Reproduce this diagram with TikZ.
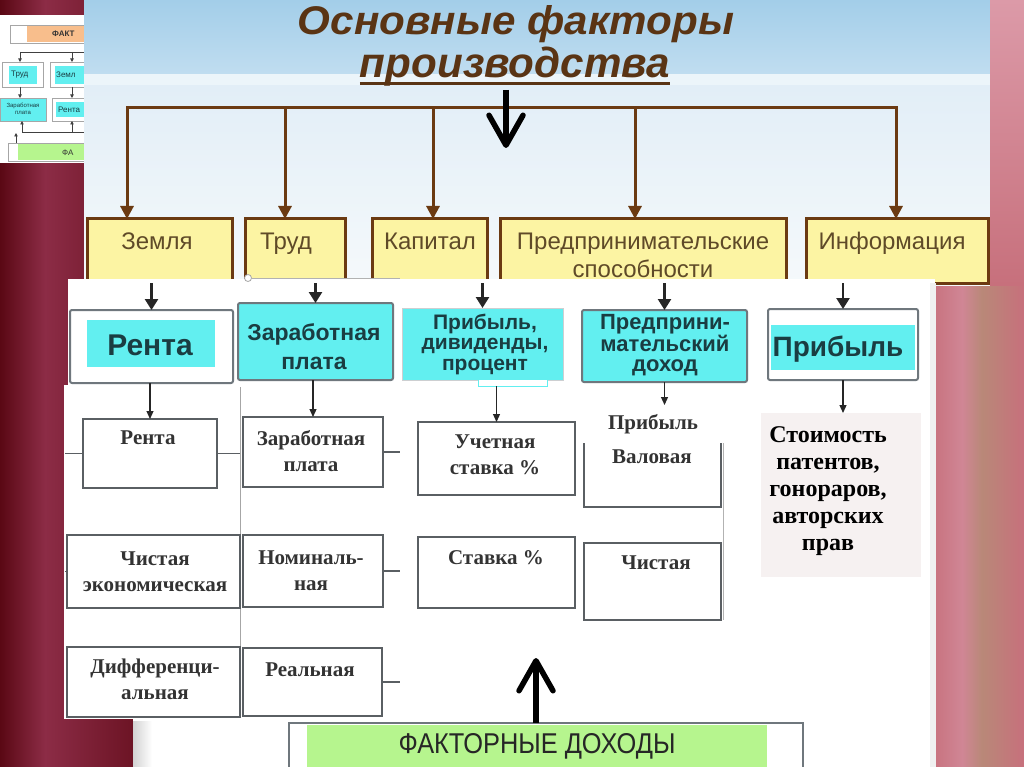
\documentclass[tikz,border=0pt]{standalone}
\usepackage{fontspec}
\usepackage{graphicx}
\setmainfont{Liberation Serif}
\newfontfamily\ysans{Liberation Sans}
\newfontfamily\csans{Liberation Sans}
\usetikzlibrary{arrows.meta,calc}
\definecolor{maroonA}{HTML}{5A0814}
\definecolor{maroonB}{HTML}{8C2C46}
\definecolor{maroonC}{HTML}{6A1222}
\definecolor{pinkA}{HTML}{C7707C}
\definecolor{pinkB}{HTML}{D08695}
\definecolor{pinkC}{HTML}{B98878}
\definecolor{pinkT}{HTML}{DC9AA8}
\definecolor{skyA}{HTML}{A3CEE9}
\definecolor{skyB}{HTML}{C0DDF0}
\definecolor{hdrA}{HTML}{E2EEF7}
\definecolor{hdrB}{HTML}{F5F9FB}
\definecolor{brownC}{HTML}{6B3A12}
\definecolor{yellowC}{HTML}{FCF4A3}
\definecolor{ytextC}{HTML}{5F4A28}
\definecolor{cyanC}{HTML}{62EFF0}
\definecolor{tealT}{HTML}{1A3D42}
\definecolor{grayB}{HTML}{6F777D}
\definecolor{grayL}{HTML}{5A5F63}
\definecolor{serifT}{HTML}{333333}
\definecolor{greenC}{HTML}{B6F58E}
\definecolor{orangeC}{HTML}{F8BE8C}
\definecolor{patchC}{HTML}{F6F1F1}
\definecolor{titleC}{HTML}{5A3414}
\begin{document}
\begin{tikzpicture}[x=1pt,y=-1pt,
  bx/.style={inner sep=0pt,outer sep=0pt,anchor=north west},
  ybox/.style={bx,draw=brownC,line width=3pt,fill=yellowC},
  ytext/.style={font=\ysans\fontsize{24}{28}\selectfont,text=ytextC,inner sep=0pt,anchor=base},
  cbox/.style={bx,draw=grayB,line width=2pt,rounded corners=2pt},
  ctext/.style={font=\csans\bfseries\fontsize{21}{20.5}\selectfont,text=tealT,align=center,inner sep=0pt},
  lbox/.style={bx,draw=grayL,line width=1.6pt,fill=white},
  ltext/.style={font=\bfseries\fontsize{21}{26}\selectfont,text=serifT,align=center,inner sep=0pt},
  barr/.style={draw=brownC,line width=3pt,-{Triangle[width=13pt,length=13pt]}},
  bigarr/.style={draw=black,line width=5.5pt,-{Straight Barb[length=30pt,width=34pt,line width=5.5pt,round]}},
  marr/.style={draw=black!85,line width=2.5pt,-{Triangle[width=13pt,length=11pt]}},
  sarr/.style={draw=black!85,line width=1.2pt,-{Triangle[width=7pt,length=8pt]}},
  tarr/.style={draw=black!75,line width=0.8pt,-{Triangle[width=3.5pt,length=3.5pt]}},
  tbox/.style={bx,draw=gray!70,line width=0.8pt},
  ttext/.style={font=\ysans\fontsize{8}{8}\selectfont,text=tealT,inner sep=0pt,anchor=west},
]
\useasboundingbox (0,0) rectangle (1024,767);
% ---------- curtains
\shade[left color=maroonA,right color=maroonB] (0,0) rectangle (45,767);
\shade[left color=maroonB,right color=maroonC] (45,0) rectangle (140,767);
\shade[left color=pinkA,right color=pinkB] (930,0) rectangle (962,767);
\shade[left color=pinkB,right color=pinkC] (962,0) rectangle (982,767);
\shade[left color=pinkC,right color=pinkA] (982,0) rectangle (1024,767);
% ---------- thumbnail
\fill[white] (0,15) rectangle (84,163);
\node[tbox,fill=white,minimum width=80pt,minimum height=18pt] (tf) at (10,25) {};
\fill[orangeC] (27,26) rectangle (90,42);
\node[ttext,font=\ysans\bfseries\fontsize{8}{8}\selectfont,text=black!80] (tfT) at (52,34) {ФАКТ};
\coordinate (tl1) at (20,52); \coordinate (tl2) at (90,52); \coordinate (tl3) at (72,52);
\draw[black!75,line width=0.8pt] (tl1) -- (tl2);
\node[tbox,fill=white,minimum width=41pt,minimum height=25pt] (tt) at (2,62) {};
\fill[cyanC] (9,66) rectangle (37,84);
\node[ttext] (ttT) at (11,75) {Труд};
\node[tbox,fill=white,minimum width=40pt,minimum height=25pt] (tz) at (50,62) {};
\fill[cyanC] (55,66) rectangle (90,84);
\node[ttext] (tzT) at (56,75) {Земл};
\draw[tarr] (tl1) -- (tl1 |- tt.north);
\draw[tarr] (tl3) -- (tl3 |- tz.north);
\node[tbox,fill=cyanC,minimum width=46pt,minimum height=23pt] (tzp) at (0,98) {};
\node[ttext,anchor=center,align=center,font=\ysans\fontsize{6}{7}\selectfont] (tzpT) at (23,109) {Заработная\\плата};
\node[tbox,fill=white,minimum width=38pt,minimum height=23pt] (tr) at (52,98) {};
\fill[cyanC] (56,102) rectangle (90,117);
\node[ttext] (trT) at (58,110) {Рента};
\draw[tarr] (tt.south -| tl1) -- (tzp.north -| tl1);
\draw[tarr] (tz.south -| tl3) -- (tr.north -| tl3);
\coordinate (tb1) at (22,132); \coordinate (tb2) at (90,132); \coordinate (tb3) at (72,132);
\draw[black!75,line width=0.8pt] (tb1) -- (tb2);
\draw[tarr] (tb1) -- (tb1 |- tzp.south);
\draw[tarr] (tb3) -- (tb3 |- tr.south);
\node[tbox,fill=white,minimum width=82pt,minimum height=18pt] (tg) at (8,143) {};
\fill[greenC] (18,144) rectangle (90,160);
\coordinate (tgA) at (16,133);
\draw[tarr] (tg.north -| tgA) -- (tgA);
\node[ttext,text=black!80] (tgT) at (62,153) {ФА};
% ---------- header
\shade[top color=skyA,bottom color=skyB] (84,0) rectangle (990,74);
\fill[white!70!skyB] (84,74) rectangle (990,86);
\shade[top color=hdrA,bottom color=hdrB] (84,86) rectangle (990,285);
\shade[top color=pinkT,bottom color=pinkA] (990,0) rectangle (1024,285);
% title
\node[anchor=base,inner sep=0pt,text=titleC] (t1) at (516,35) {\resizebox{436pt}{29pt}{\ysans\bfseries\itshape Основные факторы}};
\node[anchor=base,inner sep=0pt,text=titleC] (t2) at (515,78) {\resizebox{310pt}{!}{\ysans\bfseries\itshape производства}};
\draw[draw=titleC,line width=3pt] ($(t2.base west)+(0,6)$) -- ($(t2.base east)+(0,6)$);
% yellow boxes
\node[ybox,minimum width=145pt,minimum height=64pt] (zem) at (87,219) {};
\node[ybox,minimum width=100pt,minimum height=64pt] (trud) at (245,219) {};
\node[ybox,minimum width=115pt,minimum height=64pt] (kap) at (372,219) {};
\node[ybox,minimum width=286pt,minimum height=64pt] (pred) at (500,219) {};
\node[ybox,minimum width=182pt,minimum height=64pt] (inf) at (806,219) {};
\node[ytext] (zemT) at (157,249) {Земля};
\node[ytext] (trudT) at (286,249) {Труд};
\node[ytext] (kapT) at (430,249) {Капитал};
\node[ytext] (predT1) at (643,249) {Предпринимательские};
\node[ytext] (predT2) at (643,277) {способности};
\node[ytext] (infT) at (892,249) {Информация};
% brown tree
\coordinate (bw) at (127,108); \coordinate (be) at (896,108);
\coordinate (b2) at (285,108); \coordinate (b3) at (433,108); \coordinate (b4) at (635,108);
\draw[draw=brownC,line width=3pt,line cap=rect] (bw) -- (be);
\draw[barr] (bw) -- (bw |- zem.north);
\draw[barr] (b2) -- (b2 |- trud.north);
\draw[barr] (b3) -- (b3 |- kap.north);
\draw[barr] (b4) -- (b4 |- pred.north);
\draw[barr] (be) -- (be |- inf.north);
\coordinate (dnA) at (506,90); \coordinate (dnB) at (506,148);
\draw[bigarr] (dnA) -- (dnB);
% ---------- white panels
\fill[white] (68,279) rectangle (935,385);
\fill[white] (64,385) rectangle (935,719);
\fill[white] (133,719) rectangle (935,767);
\shade[left color=gray!35,right color=white] (133,721) rectangle (152,767);
\fill[gray!12] (930,283) rectangle (936,767);
\draw[gray!60,line width=1pt] (252,278) -- (400,278);
\draw[gray!70,fill=white,line width=0.8pt] (248,278) circle (3.5);
% ---------- second row (cyan)
\node[cbox,fill=white,minimum width=163pt,minimum height=73pt] (renta) at (70,310) {};
\fill[cyanC] (87,320) rectangle (215,367);
\node[ctext,font=\csans\bfseries\fontsize{30}{30}\selectfont] (rentaT) at (150,345) {Рента};
\node[cbox,fill=cyanC,minimum width=155pt,minimum height=77pt] (zp) at (238,303) {};
\node[ctext,font=\csans\bfseries\fontsize{23}{29}\selectfont] (zpT) at (314,347) {Заработная\\плата};
\node[bx,fill=cyanC,draw=grayB!35,line width=1pt,minimum width=161pt,minimum height=72pt] (pdp) at (402,308) {};
\node[ctext] (pdpT) at (485,344) {Прибыль,\\дивиденды,\\процент};
\node[cbox,fill=cyanC,minimum width=165pt,minimum height=72pt] (pd) at (582,310) {};
\node[ctext,font=\csans\bfseries\fontsize{22}{20.5}\selectfont] (pdT) at (665,345) {Предприни-\\мательский\\доход};
\node[cbox,fill=white,minimum width=150pt,minimum height=71pt] (prib) at (768,309) {};
\fill[cyanC] (771,325) rectangle (915,370);
\node[ctext,font=\csans\bfseries\fontsize{28}{30}\selectfont] (pribT) at (838,349) {Прибыль};
\draw[marr] (renta.north |- zem.south) -- (renta.north);
\draw[marr] (zp.north |- trud.south) -- (zp.north);
\draw[marr] (pdp.north |- kap.south) -- (pdp.north);
\draw[marr] (pd.north |- pred.south) -- (pd.north);
\draw[marr] (prib.north |- inf.south) -- (prib.north);
\node[bx,fill=white,draw=cyanC,line width=1pt,minimum width=69pt,minimum height=7pt] (pdpP) at (478,379) {};
% ---------- third row (table)
\draw[gray!70,line width=0.8pt] (240,387) -- (240,718);
\draw[gray!60,line width=0.8pt] (723,405) -- (723,620);
\node[lbox,minimum width=134pt,minimum height=69pt] (lr) at (83,419) {};
\node[ltext] (lrT) at (148,438) {Рента};
\node[lbox,minimum width=140pt,minimum height=70pt] (lz) at (243,417) {};
\node[ltext] (lzT) at (311,451) {Заработная\\плата};
\node[lbox,minimum width=173pt,minimum height=73pt] (lc) at (67,535) {};
\node[ltext] (lcT) at (155,572) {Чистая\\экономическая};
\node[lbox,minimum width=140pt,minimum height=72pt] (ln) at (243,535) {};
\node[ltext] (lnT) at (311,571) {Номиналь-\\ная};
\node[lbox,minimum width=173pt,minimum height=70pt] (ld) at (67,647) {};
\node[ltext] (ldT) at (155,679) {Дифференци-\\альная};
\node[lbox,minimum width=139pt,minimum height=68pt] (lre) at (243,648) {};
\node[ltext] (lreT) at (310,670) {Реальная};
\node[lbox,minimum width=157pt,minimum height=73pt] (lu) at (418,422) {};
\node[ltext] (luT) at (495,455) {Учетная\\ставка \%};
\node[lbox,minimum width=157pt,minimum height=71pt] (ls) at (418,537) {};
\node[ltext] (lsT) at (496,558) {Ставка \%};
\node[lbox,minimum width=137pt,minimum height=87pt] (lv) at (584,420) {};
\node[bx,fill=white,minimum width=151pt,minimum height=38pt] (lvP) at (579,405) {};
\node[ltext] (lvT1) at (653,424) {Прибыль};
\node[ltext] (lvT2) at (652,457) {Валовая};
\node[lbox,minimum width=137pt,minimum height=77pt] (lch) at (584,543) {};
\node[ltext] (lchT) at (656,563) {Чистая};
\node[bx,fill=patchC,minimum width=160pt,minimum height=164pt] (sp) at (761,413) {};
\node[ltext,font=\bfseries\fontsize{24}{27}\selectfont,text=black] (spT) at (828,491) {Стоимость\\патентов,\\гонораров,\\авторских\\прав};
% stubs
\coordinate (lpW) at (65,0); \coordinate (lpE) at (240,0); \coordinate (c3W) at (400,0);
\draw[grayL,line width=1.2pt] (lr.west) -- (lr.west -| lpW);
\draw[grayL,line width=1.2pt] (lr.east) -- (lr.east -| lpE);
\draw[grayL,line width=1.2pt] (lz.east) -- (lz.east -| c3W);
\draw[grayL,line width=1.2pt] (ln.east) -- (ln.east -| c3W);
\draw[grayL,line width=1.2pt] (lre.east) -- (lre.east -| c3W);
\draw[grayL,line width=1.2pt] (lc.west) -- (lc.west -| lpW);
% arrows third row
\draw[sarr] (renta.south -| lr.north) -- (lr.north);
\draw[sarr] (zp.south -| lz.north) -- (lz.north);
\draw[sarr] (pdpP.south -| lu.north) -- (lu.north);
\draw[sarr] (pd.south) -- (pd.south |- lvP.north);
\draw[sarr] (prib.south) -- (prib.south |- sp.north);
% ---------- bottom bar
\node[bx,draw=grayB,line width=1.5pt,fill=white,minimum width=514pt,minimum height=50pt] (fd) at (289,723) {};
\fill[greenC] (307,725) rectangle (767,767);
\node[inner sep=0pt,text=black!85] (fdT) at (537,746) {\resizebox{277pt}{20pt}{\ysans ФАКТОРНЫЕ ДОХОДЫ}};
\coordinate (upTip) at (536,658);
\draw[bigarr] (fd.north -| upTip) -- (upTip);
\end{tikzpicture}
\end{document}
